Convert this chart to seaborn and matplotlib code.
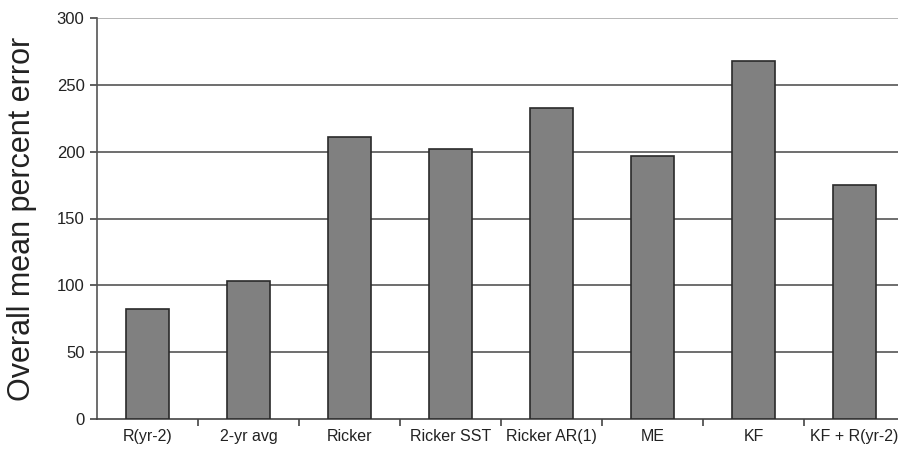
import numpy as np
import pandas as pd
import matplotlib
matplotlib.use("Agg")
import matplotlib.pyplot as plt
import seaborn as sns

# valeurs
models = ["R(yr-2)", "2-yr avg", "Ricker", "Ricker SST", "Ricker AR(1)", "ME", "KF", "KF + R(yr-2)"]
mean_pct_error = [82, 103, 211, 202, 233, 197, 268, 175]
yticks = [0, 50, 100, 150, 200, 250, 300]

df = pd.DataFrame({"model": models, "error": mean_pct_error})

sns.set_theme(style="white")
plt.rcParams["font.family"] = ["Liberation Sans", "DejaVu Sans"]

fig = plt.figure(figsize=(8.98, 4.5), dpi=100)
ax = fig.add_axes([97 / 898, 31 / 450, 808 / 898, 401 / 450])

sns.barplot(data=df, x="model", y="error", color="#808080", saturation=1,
            edgecolor="#2a2a2a", linewidth=1.2, width=0.43, ax=ax, zorder=3)

ax.set_xlim(-0.5, len(models) - 0.5)
ax.set_ylim(0, 300)
ax.set_yticks(yticks)
ax.set_yticklabels([str(t) for t in yticks], fontsize=12, color="#222222")

# lignes de grille horizontales
for t in yticks[1:-1]:
    ax.axhline(t, color="#555555", lw=1.2, zorder=1)
ax.axhline(300, color="#aaaaaa", lw=1.2, zorder=1)

# graduations entre les catégories
ax.set_xticks(np.arange(len(models)))
ax.set_xticklabels(models, fontsize=11.5, color="#222222")
ax.set_xticks(np.arange(len(models)) + 0.5, minor=True)
ax.tick_params(axis="x", which="major", length=0, pad=7)
ax.tick_params(axis="x", which="minor", length=5, width=1.2, color="#444444", direction="out", bottom=True)
ax.tick_params(axis="y", length=5, width=1.2, color="#444444", direction="out", left=True, pad=4)

for side in ["top", "right"]:
    ax.spines[side].set_visible(False)
ax.spines["left"].set_color("#555555")
ax.spines["left"].set_linewidth(1.2)
ax.spines["bottom"].set_color("#444444")
ax.spines["bottom"].set_linewidth(1.2)

ax.set_xlabel("")
ax.set_ylabel("Overall mean percent error", fontsize=22, color="#222222", labelpad=14)

fig.savefig("out.png", dpi=100)
